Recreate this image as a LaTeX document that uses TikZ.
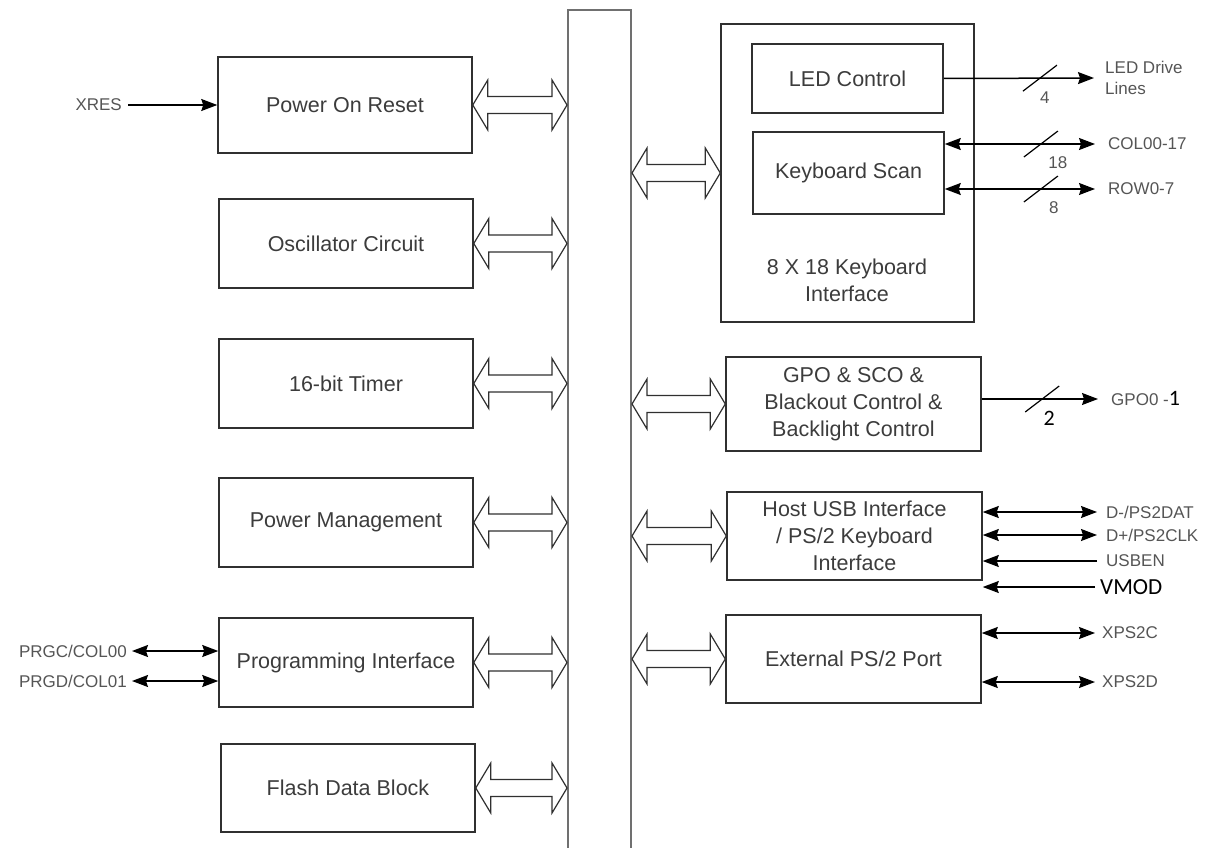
\documentclass[tikz,border=0pt]{standalone}
\usepackage{fontspec}
\setmainfont{Liberation Sans}
\newfontfamily\numfont{Carlito}
\usetikzlibrary{positioning,calc,arrows.meta}

\definecolor{txtgray}{HTML}{3C3C3C}
\definecolor{lblgray}{HTML}{555555}
\definecolor{boxline}{HTML}{303030}
\definecolor{busgray}{HTML}{707070}

\tikzset{
  block/.style={draw=boxline, line width=1.5pt, text=txtgray, align=center,
    font=\fontsize{21.5}{27}\selectfont, inner sep=2pt,
    minimum width=254pt, minimum height=89pt},
  busbox/.style={draw=busgray, line width=2pt},
  busarrow/.style={draw=boxline, line width=1.2pt, fill=white, line join=miter},
  sigin/.style={line width=1.5pt, -{Stealth[length=16pt,width=12pt,inset=2pt]}},
  sigboth/.style={line width=1.5pt,
    {Stealth[length=16pt,width=12pt,inset=2pt]}-{Stealth[length=16pt,width=12pt,inset=2pt]}},
  siglbl/.style={text=lblgray, font=\fontsize{17}{21}\selectfont, inner sep=1pt, align=left},
  twolbl/.style={text=black, font=\numfont\fontsize{22}{24}\selectfont, inner sep=0pt},
  slash/.style={line width=1.2pt},
}

% hollow double arrow between a block and the bus
\newcommand{\busarrow}[2]{%
  \draw[busarrow] let \p1=#1, \p2=#2 in
    (\x1,\y1) -- (\x1+15pt,\y1+25pt) -- (\x1+15pt,\y1+8.5pt)
    -- (\x2-15pt,\y1+8.5pt) -- (\x2-15pt,\y1+25pt) -- (\x2,\y1)
    -- (\x2-15pt,\y1-25pt) -- (\x2-15pt,\y1-8.5pt)
    -- (\x1+15pt,\y1-8.5pt) -- (\x1+15pt,\y1-25pt) -- cycle;}

% bus width mark: cut point, label offset, label style, name, text
\newcommand{\slashmark}[5]{%
  \draw[slash] ([shift={(-17,13)}]#1) -- ([shift={(17,-13)}]#1);
  \node[#3] (#4) at ([shift={(#2,19)}]#1) {#5};}

\begin{document}
\begin{tikzpicture}[x=1pt,y=-1pt]
\useasboundingbox (0,0) rectangle (1210,848);

% left column
\node[block, minimum height=96pt] (por) at (345,105) {Power On Reset};
\node[block] (osc)   at (346,243.5) {Oscillator Circuit};
\node[block] (timer) at (346,383.5) {16-bit Timer};
\node[block] (pwr)   at (346,522.5) {Power Management};
\node[block] (prog)  at (346,662.5) {Programming Interface};
\node[block, minimum height=88pt] (flash) at (348,788) {Flash Data Block};

% bus
\node[busbox, minimum width=63pt, minimum height=900pt, anchor=north] (bus) at (599.5,9) {};

% right column
\node[block, minimum width=253pt, minimum height=298pt] (kbd) at (847.5,173) {};
\node[block, minimum width=191pt, minimum height=69pt] (ledctl) at (847.5,78.5) {LED Control};
\node[block, minimum width=191pt, minimum height=82pt] (kscan) at (848.5,173) {Keyboard Scan};
\node[text=txtgray, align=center, font=\fontsize{21.5}{27}\selectfont] (kbdtxt) at (847,280)
  {8 X 18 Keyboard\\Interface};
\node[block, minimum width=255pt, minimum height=94pt] (gpo) at (853.5,404)
  {GPO \& SCO \&\\Blackout Control \&\\Backlight Control};
\node[block, minimum width=255pt, minimum height=88pt] (usb) at (854.5,536)
  {Host USB Interface\\/ PS/2 Keyboard\\Interface};
\node[block, minimum width=255pt, minimum height=88pt] (ext) at (853.5,659) {External PS/2 Port};

% bus arrows
\foreach \blk in {por,osc,timer,pwr,prog,flash}
  \busarrow{(\blk.east)}{(bus.west |- \blk.east)};
\foreach \blk in {kbd,gpo,usb,ext}
  \busarrow{(bus.east |- \blk.west)}{(\blk.west)};

% left signals
\coordinate (xresend) at (128,105);
\node[siglbl, left=5pt of xresend] (xres) {XRES};
\draw[sigin] (xresend) -- (por.west |- xresend);
\coordinate (prgcend) at (132,651);
\node[siglbl, left=4pt of prgcend] (prgc) {PRGC/COL00};
\draw[sigboth] (prgcend) -- (prog.west |- prgcend);
\coordinate (prgdend) at (132,681);
\node[siglbl, left=4pt of prgdend] (prgd) {PRGD/COL01};
\draw[sigboth] (prgdend) -- (prog.west |- prgdend);

% keyboard signals
\coordinate (ledend) at (1094,78);
\draw[sigin] (ledctl.east) -- coordinate[pos=0.64] (ledcut) (ledend);
\slashmark{ledcut}{5}{siglbl}{ledn}{4}
\node[siglbl, right=10pt of ledend] (ledout) {LED Drive\\Lines};

\coordinate (colend) at (1095,144);
\draw[sigboth] (kscan.east |- colend) -- coordinate[pos=0.64] (colcut) (colend);
\slashmark{colcut}{17}{siglbl}{coln}{18}
\node[siglbl, right=12pt of colend] (col) {COL00-17};

\coordinate (rowend) at (1095,189);
\draw[sigboth] (kscan.east |- rowend) -- coordinate[pos=0.64] (rowcut) (rowend);
\slashmark{rowcut}{13}{siglbl}{rown}{8}
\node[siglbl, right=12pt of rowend] (row) {ROW0-7};

% gpo
\coordinate (gpoend) at (1098,399);
\draw[sigin] (gpo.east |- gpoend) -- coordinate[pos=0.52] (gpocut) (gpoend);
\slashmark{gpocut}{7}{twolbl}{gpon}{2}
\node[siglbl, right=12pt of gpoend] (gpoout)
  {GPO0 -{\numfont\fontsize{22}{24}\selectfont\color{black}1}};

% usb
\coordinate (dmend) at (1097,512);
\draw[sigboth] (usb.east |- dmend) -- (dmend);
\node[siglbl, right=8pt of dmend] (dm) {D-/PS2DAT};
\coordinate (dpend) at (1097,535);
\draw[sigboth] (usb.east |- dpend) -- (dpend);
\node[siglbl, right=8pt of dpend] (dp) {D+/PS2CLK};
\coordinate (usbenend) at (1097,561);
\draw[sigin] (usbenend) -- (usb.east |- usbenend);
\node[siglbl, right=8pt of usbenend] (usben) {USBEN};
\coordinate (vmodend) at (1095,587);
\draw[sigin] (vmodend) -- (usb.east |- vmodend);
\node[twolbl, right=5pt of vmodend, font=\numfont\fontsize{23}{26}\selectfont] (vmod) {VMOD};

% external ps/2
\coordinate (xcend) at (1095,633);
\draw[sigboth] (ext.east |- xcend) -- (xcend);
\node[siglbl, right=6pt of xcend] (xc) {XPS2C};
\coordinate (xdend) at (1095,682);
\draw[sigboth] (ext.east |- xdend) -- (xdend);
\node[siglbl, right=6pt of xdend] (xd) {XPS2D};
\end{tikzpicture}
\end{document}
